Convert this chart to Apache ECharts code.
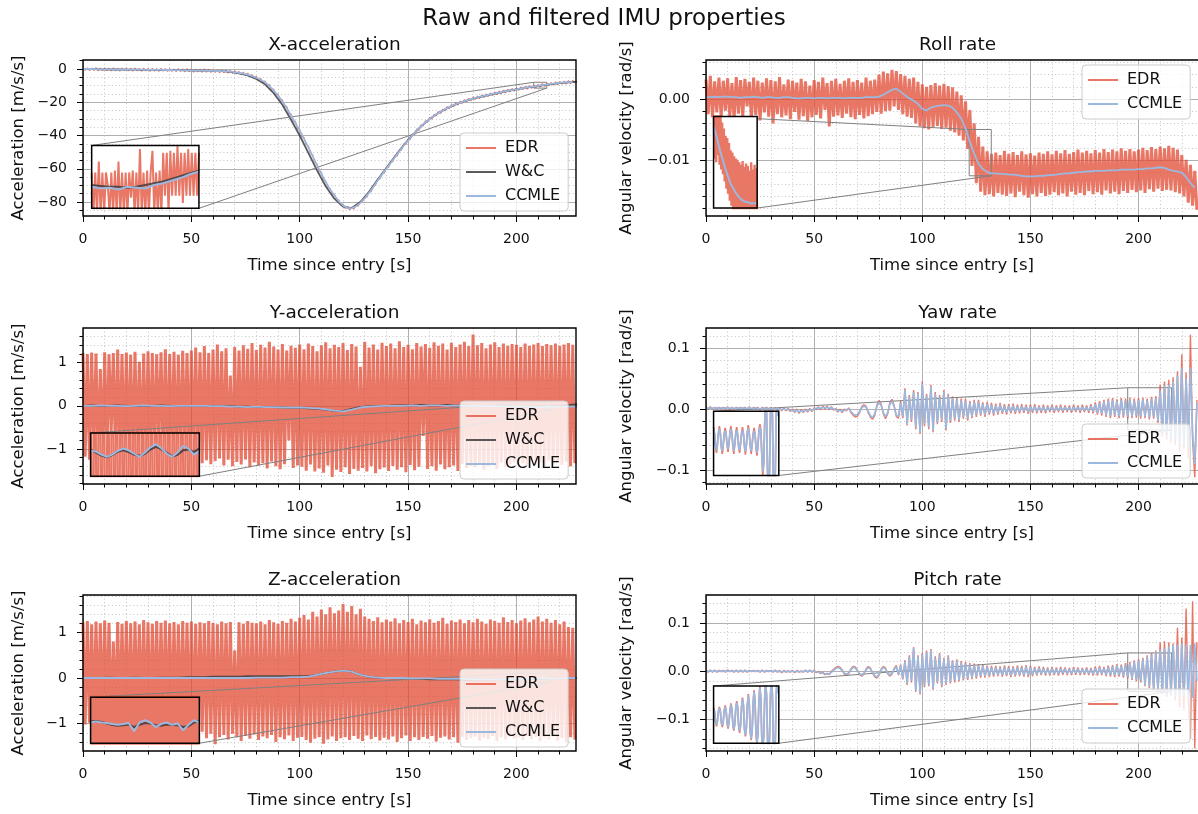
<!DOCTYPE html>
<html><head><meta charset="utf-8">
<script src="https://cdn.jsdelivr.net/npm/echarts@6/dist/echarts.min.js"></script>
<style>html,body{margin:0;padding:0;background:#fff}#c{width:1198px;height:814px}</style>
</head><body><div id="c"></div>
<script>
// ---------------- tick labels ----------------
const xTicks = [0, 50, 100, 150, 200];
const xaccTicks = [-80, -60, -40, -20, 0];
const rollTicks = [-0.01, 0.00];
const yaccTicks = [-1, 0, 1];
const zaccTicks = [-1, 0, 1];
const yawTicks = [-0.1, 0.0, 0.1];
const pitchTicks = [-0.1, 0.0, 0.1];

// ---------------- X-acceleration ----------------
// EDR sampled every 1 s from t=0
const xaccEdr = [
0.9,-0.8,0.7,-1.0,0.6,-0.9,0.8,-1.1,0.5,-1.0,0.6,-1.0,0.5,-1.2,0.7,-1.1,0.4,-1.3,0.6,-1.0,
0.5,-1.2,0.4,-1.3,0.6,-1.1,0.3,-1.4,0.5,-1.2,0.3,-1.4,0.4,-1.3,0.2,-1.5,0.4,-1.3,0.3,-1.5,
0.2,-1.5,0.1,-1.6,0.3,-1.4,0.0,-1.7,0.2,-1.6,-0.1,-1.9,0.0,-1.8,-0.2,-2.0,0.1,-1.9,-0.2,-2.1,
-0.3,-2.1,-0.4,-2.3,-0.5,-2.2,-0.6,-2.5,-0.8,-2.7,-1.0,-3.0,-1.5,-3.3,-1.9,-3.8,-2.5,-4.4,-3.3,-5.3,
-4.4,-6.9,-5.6,-8.4,-7.1,-10.4,-9.2,-12.8,-12.0,-15.6,-15.0,-18.9,-18.4,-22.7,-22.4,-26.9,-26.9,-31.4,-31.4,-35.9,
-36.2,-40.8,-41.2,-45.6,-46.1,-50.9,-51.6,-56.3,-57.1,-61.8,-62.0,-66.6,-67.3,-71.4,-71.7,-75.4,-75.2,-79.0,-78.6,-82.0,
-81.2,-83.9,-82.6,-84.7,-83.0,-84.3,-81.6,-82.6,-79.6,-79.9,-76.9,-77.2,-73.6,-73.8,-70.1,-70.0,-66.1,-66.2,-62.6,-62.8,
-59.1,-59.2,-55.6,-55.7,-52.1,-52.3,-48.6,-48.8,-45.1,-45.5,-42.1,-42.5,-39.1,-39.5,-36.1,-36.8,-33.6,-34.2,-31.1,-32.0,
-29.1,-30.1,-27.3,-28.3,-25.6,-26.7,-24.1,-25.2,-22.6,-23.9,-21.4,-22.7,-20.3,-21.7,-19.3,-20.7,-18.4,-19.8,-17.6,-19.1,
-16.9,-18.4,-16.2,-17.8,-15.6,-17.2,-15.0,-16.6,-14.4,-16.0,-13.8,-15.4,-13.3,-14.9,-12.7,-14.4,-12.2,-13.8,-11.7,-13.4,
-11.3,-12.9,-10.8,-12.5,-10.4,-12.1,-10.0,-11.7,-9.6,-11.3,-9.2,-10.9,-8.8,-10.5,-8.4,-10.1,-8.1,-9.8,-7.8,-9.5,
-7.5,-9.2,-7.2,-9.0,-7.0,-8.8,-6.8,-8.6];
// W&C every 4 s
const xaccWc = [
0,0,-0.2,-0.3,-0.3,-0.4,-0.4,-0.5,-0.5,-0.6,
-0.6,-0.7,-0.8,-0.9,-1.0,-1.1,-1.3,-1.8,-2.6,-3.9,
-6.0,-9.2,-14.5,-21.5,-30.5,-40,-50.5,-61,-70.5,-78,
-82.8,-83.6,-80,-73.8,-66.5,-59.5,-52.5,-45.8,-39.8,-34.5,
-30,-26.5,-23.6,-21.3,-19.4,-17.9,-16.6,-15.4,-14.3,-13.2,
-12.3,-11.4,-10.6,-9.8,-9.1,-8.5,-8.0,-7.6];
// CCMLE every 2 s
const xaccCcmle = [
0,0,0,-0.1,-0.2,-0.2,-0.2,-0.3,-0.3,-0.3,
-0.3,-0.4,-0.4,-0.4,-0.4,-0.5,-0.5,-0.5,-0.5,-0.6,
-0.6,-0.7,-0.7,-0.8,-0.8,-0.9,-0.9,-1.0,-1.0,-1.1,
-1.1,-1.2,-1.3,-1.4,-1.6,-1.9,-2.3,-2.8,-3.4,-4.2,
-5.3,-6.5,-8.0,-10.2,-13,-16,-19.5,-23.5,-28,-32.5,
-37,-42,-47,-52.5,-58,-63,-68,-72.5,-76,-79.5,
-82,-83.5,-83.8,-82.5,-80.5,-77.8,-74.5,-71,-67,-63.5,
-60,-56.5,-53,-49.5,-46,-43,-40,-37,-34.5,-32,
-30,-28.2,-26.5,-25,-23.5,-22.3,-21.2,-20.2,-19.3,-18.5,
-17.8,-17.1,-16.5,-15.9,-15.3,-14.7,-14.2,-13.6,-13.1,-12.6,
-12.2,-11.7,-11.3,-10.9,-10.5,-10.1,-9.7,-9.3,-9.0,-8.7,
-8.4,-8.1,-7.9,-7.7];
// inset (t from 208 s): EDR every 0.1 s, filters every 0.5 s
const xaccInEdr = [
-9.5,-11.8,-9.5,-11.8,-8.9,-11.8,-9.5,-11.8,-9.5,-10.2,-11.8,-9.5,-11.8,-9.4,-11.8,-8.9,-11.8,-9.5,-11.8,-9.5,
-11.8,-9.5,-10.9,-9.4,-11.8,-9.5,-11.8,-8.2,-11.8,-9.5,-11.8,-9.4,-11.8,-9.5,-8.3,-11.8,-9.5,-11.8,-9.4,-11.8,
-8.4,-10.8,-8.4,-11.8,-8.3,-10.8,-8.4,-10.8,-8.0,-10.8,-8.4,-11.2,-8.4,-10.8,-8.2,-10.8,-8.4,-10.8,-8.4,-10.8,-8.4];
const xaccInWc = [-10.2,-10.25,-10.3,-10.3,-10.35,-10.3,-10.2,-10.1,-10.0,-9.85,-9.7,-9.55,-9.4];
const xaccInCcmle = [-10.3,-10.4,-10.35,-10.45,-10.3,-10.35,-10.4,-10.2,-10.1,-9.95,-9.8,-9.6,-9.45];

// ---------------- Roll rate ----------------
const rollEdr = [
0.0032,-0.0025,0.0038,-0.0030,0.0029,-0.0022,0.0035,-0.0031,0.0030,-0.0019,0.0034,-0.0028,0.0026,-0.0033,0.0036,-0.0024,0.0031,-0.0029,0.0033,-0.0012,
0.0028,-0.0031,0.0035,-0.0026,0.0030,-0.0035,0.0027,-0.0022,0.0034,-0.0029,0.0031,-0.0040,0.0029,-0.0025,0.0036,-0.0030,0.0024,-0.0027,0.0032,-0.0033,
0.0030,-0.0021,0.0027,-0.0034,0.0033,-0.0028,0.0029,-0.0036,0.0022,-0.0030,0.0031,-0.0026,0.0028,-0.0032,0.0035,-0.0018,0.0026,-0.0045,0.0030,-0.0029,
0.0033,-0.0027,0.0025,-0.0031,0.0030,-0.0024,0.0034,-0.0030,0.0028,-0.0033,0.0031,-0.0026,0.0027,-0.0032,0.0035,-0.0028,0.0030,-0.0025,0.0032,-0.0021,
0.0040,-0.0024,0.0045,-0.0020,0.0042,-0.0019,0.0048,-0.0012,0.0046,-0.0018,0.0041,-0.0025,0.0038,-0.0029,0.0033,-0.0031,0.0035,-0.0040,0.0028,-0.0045,
0.0024,-0.0048,0.0020,-0.0050,0.0023,-0.0046,0.0026,-0.0044,0.0022,-0.0049,0.0025,-0.0047,0.0021,-0.0052,0.0019,-0.0055,0.0012,-0.0060,0.0006,-0.0068,
-0.0004,-0.0082,-0.0018,-0.0110,-0.0040,-0.0138,-0.0062,-0.0152,-0.0078,-0.0158,-0.0086,-0.0156,-0.0090,-0.0160,-0.0088,-0.0154,-0.0092,-0.0157,-0.0085,-0.0159,
-0.0090,-0.0155,-0.0087,-0.0161,-0.0092,-0.0152,-0.0086,-0.0158,-0.0091,-0.0162,-0.0089,-0.0156,-0.0093,-0.0160,-0.0088,-0.0154,-0.0090,-0.0159,-0.0086,-0.0157,
-0.0091,-0.0153,-0.0085,-0.0158,-0.0089,-0.0155,-0.0084,-0.0160,-0.0090,-0.0152,-0.0087,-0.0157,-0.0083,-0.0154,-0.0088,-0.0158,-0.0085,-0.0151,-0.0089,-0.0156,
-0.0084,-0.0153,-0.0088,-0.0157,-0.0082,-0.0150,-0.0087,-0.0155,-0.0083,-0.0152,-0.0086,-0.0156,-0.0081,-0.0151,-0.0085,-0.0154,-0.0082,-0.0149,-0.0086,-0.0153,
-0.0083,-0.0150,-0.0080,-0.0154,-0.0084,-0.0148,-0.0079,-0.0152,-0.0082,-0.0147,-0.0078,-0.0151,-0.0081,-0.0149,-0.0077,-0.0150,-0.0080,-0.0153,-0.0083,-0.0155,
-0.0092,-0.0160,-0.0100,-0.0170,-0.0108,-0.0175,-0.0118,-0.0182];
// CCMLE every 2 s
const rollCcmle = [
0.0003,0.0003,0.0004,0.0003,0.0004,0.0004,0.0003,0.0003,0.0002,0.0003,0.0003,0.0004,0.0003,0.0002,0.0003,0.0003,0.0002,0.0002,0.0003,0.0003,
0.0002,0.0001,0.0001,0.0002,0.0002,0.0001,0.0002,0.0002,0.0001,0.0002,0.0002,0.0002,0.0001,0.0002,0.0002,0.0002,0.0002,0.0003,0.0003,0.0003,
0.0004,0.0007,0.0011,0.0015,0.0017,0.0012,0.0006,0.0001,-0.0003,-0.0008,-0.0016,-0.0019,-0.0014,-0.0012,-0.0011,-0.0010,-0.0011,-0.0014,-0.0022,-0.0032,
-0.0048,-0.0070,-0.0090,-0.0106,-0.0115,-0.0120,-0.0122,-0.0122,-0.0123,-0.0123,-0.0124,-0.0124,-0.0125,-0.0126,-0.0127,-0.0127,-0.0127,-0.0126,-0.0126,-0.0125,
-0.0125,-0.0124,-0.0123,-0.0122,-0.0122,-0.0121,-0.0120,-0.0120,-0.0119,-0.0119,-0.0118,-0.0118,-0.0118,-0.0117,-0.0117,-0.0117,-0.0116,-0.0116,-0.0116,-0.0116,
-0.0115,-0.0115,-0.0114,-0.0114,-0.0113,-0.0112,-0.0113,-0.0116,-0.0118,-0.0119,-0.0121,-0.0128,-0.0138,-0.0146];
// inset (t from 121.7 s): EDR every 0.2 s, CCMLE every 0.5 s
const rollInEdr = [
-0.0035,-0.0085,-0.0030,-0.0088,-0.0040,-0.0082,-0.0036,-0.0090,-0.0045,-0.0094,
-0.0055,-0.0098,-0.0060,-0.0104,-0.0066,-0.0110,-0.0068,-0.0114,-0.0072,-0.0120,
-0.0078,-0.0124,-0.0080,-0.0130,-0.0083,-0.0128,-0.0085,-0.0132,-0.0086,-0.0131,
-0.0088,-0.0133,-0.0090,-0.0130,-0.0087,-0.0134,-0.0092,-0.0131,-0.0089,-0.0133,
-0.0091,-0.0130,-0.0095,-0.0134,-0.0088,-0.0131,-0.0094,-0.0133,-0.0090,-0.0132,-0.0093,-0.0134];
const rollInCcmle = [-0.0058,-0.0064,-0.0071,-0.0078,-0.0084,-0.0090,-0.0096,-0.0101,-0.0106,-0.0109,-0.0112,-0.0115,-0.0117,-0.0119,-0.0120,-0.0121,-0.0121,-0.0122,-0.0122,-0.0122,-0.0122];

// ---------------- Y-acceleration ----------------
const yaccEdr = [
1.22,-1.18,1.20,-1.25,1.23,-1.10,1.21,-1.28,0.85,-1.20,1.24,-1.22,1.19,-0.60,1.22,-1.24,1.30,-1.19,1.20,-1.26,
1.23,-1.15,1.18,-1.27,1.25,-1.21,1.02,-1.23,1.21,-1.30,1.26,-1.18,1.22,-1.24,1.19,-0.90,1.24,-1.22,1.31,-1.27,
1.20,-1.19,1.25,-1.29,1.18,-1.23,1.27,-1.12,1.22,-1.31,1.28,-1.24,1.35,-1.20,1.24,-1.33,1.38,-1.26,1.22,-1.35,
1.30,-1.28,1.42,-1.22,1.26,-1.38,1.33,-1.25,0.70,-1.40,1.36,-1.30,1.28,-1.36,1.40,-1.24,1.32,-1.42,1.45,-1.31,
1.29,-1.38,1.41,-1.33,1.35,-1.45,1.48,-1.29,1.37,-1.40,1.30,-1.47,1.43,-1.35,1.28,-0.80,1.39,-1.44,1.34,-1.38,
1.42,-1.41,1.31,-1.50,1.44,-1.36,1.38,-1.52,1.26,-1.45,1.40,-1.55,1.47,-1.38,1.33,-1.65,1.41,-1.48,1.36,-1.53,
1.45,-1.42,1.29,-1.58,1.43,-1.46,1.37,-1.50,0.90,-1.44,1.48,-1.52,1.35,-1.40,1.42,-1.56,1.30,-1.47,1.46,-1.43,
1.38,-1.51,1.44,-1.39,1.33,-1.48,1.49,-1.42,1.36,-1.54,1.41,-1.37,1.31,-1.49,1.45,-1.41,1.37,-0.70,1.43,-1.46,
1.34,-1.40,1.47,-1.50,1.39,-1.36,1.44,-1.47,1.30,-1.42,1.46,-1.38,1.36,-1.51,1.42,-1.35,1.48,-1.44,1.38,-1.39,
1.65,-1.43,1.40,-1.37,1.45,-1.48,1.33,-1.40,1.42,-1.35,1.47,-1.46,1.36,-1.32,1.44,-1.41,1.39,-1.36,1.43,-1.30,
1.41,-1.38,1.36,-1.33,1.44,-1.40,1.39,-1.28,1.42,-1.36,1.45,-1.31,1.38,-1.39,1.43,-1.27,1.40,-1.35,1.44,-1.32,
1.39,-1.37,1.42,-1.29,1.45,-1.40,1.41,-1.33];
// filters every 4 s
const yaccWc = [
0,0.01,0,0,0.01,0,-0.01,0,0,0.01,0,0,-0.01,0,
0,0,-0.01,-0.01,-0.02,-0.02,-0.03,-0.03,-0.03,-0.04,-0.05,-0.05,
-0.06,-0.07,-0.09,-0.12,-0.12,-0.07,-0.03,-0.01,0,0,0.01,
0.01,0.01,0.02,0.01,0.01,0.02,0.01,0.01,0,0,-0.01,-0.01,-0.01,-0.02,-0.02,-0.02,-0.02,-0.01,-0.01,0.02,0.03];
const yaccCcmle = [
0,0,0.01,0,0,-0.01,0,0.01,0,0,-0.01,0,0,0,
0,-0.01,-0.01,-0.02,-0.02,-0.03,-0.02,-0.03,-0.03,-0.04,-0.04,-0.04,
-0.05,-0.06,-0.08,-0.11,-0.13,-0.09,-0.04,-0.02,-0.01,0,0,
0,0.01,0,0.01,0.01,0,0.01,0,0,-0.01,-0.01,-0.01,-0.02,-0.02,-0.02,-0.03,-0.03,-0.02,-0.02,-0.02,-0.02];
// inset (t from 213 s): EDR every 0.06 s, filters every 0.15 s
const yaccInEdr = [
1.21,-1.30,1.15,-1.22,1.28,-1.18,1.20,-1.35,1.12,-1.25,1.30,-1.20,1.18,-1.28,1.25,-1.15,1.22,-1.32,1.16,-1.24,
1.27,-1.19,1.21,-1.30,1.14,-1.26,1.29,-1.21,1.17,-1.33,1.24,-1.16,1.20,-1.27,1.31,-1.22,1.18,-1.29,1.23,-1.17,
1.26,-1.31,1.15,-1.24,1.28,-1.20,1.19,-1.34,1.25,-1.18,1.22];
const yaccInWc = [0.022,0.01,-0.004,-0.012,-0.002,0.014,0.02,0.012,0.0,-0.006,0.004,0.024,0.036,0.026,0.008,-0.008,0.0,0.02,0.024,0.012,0.028];
const yaccInCcmle = [0.018,0.014,0.0,-0.01,0.0,0.018,0.028,0.02,0.004,-0.01,0.01,0.034,0.048,0.03,0.004,-0.01,0.01,0.04,0.028,0.0,0.016];

// ---------------- Z-acceleration ----------------
const zaccEdr = [
1.22,-1.02,1.25,-0.98,1.18,-1.05,1.24,-1.01,1.20,-1.08,1.26,-0.96,1.21,-1.04,0.80,-1.00,1.23,-1.06,1.19,-0.99,
1.25,-1.03,1.20,-1.10,1.24,-0.97,1.18,-1.05,1.27,-1.02,1.22,-1.08,1.19,-1.00,1.25,-1.12,1.21,-1.04,1.26,-0.98,
1.20,-1.06,1.23,-1.01,1.18,-1.10,1.25,-1.03,1.21,-1.15,1.24,-1.20,1.19,-1.28,1.22,-1.18,1.20,-1.32,1.25,-1.22,
1.21,-1.45,1.18,-1.30,1.24,-1.25,1.20,-1.35,1.23,-1.22,0.60,-1.30,1.22,-1.38,1.19,-1.27,1.25,-1.33,1.21,-1.24,
1.20,-1.36,1.24,-1.28,1.18,-1.32,1.27,-1.25,1.22,-1.40,1.19,-1.30,1.25,-1.34,1.21,-1.26,1.30,-1.38,1.24,-1.31,
1.32,-1.29,1.38,-1.36,1.28,-1.42,1.45,-1.33,1.35,-1.30,1.50,-1.44,1.40,-1.35,1.55,-1.28,1.42,-1.38,1.48,-1.32,
1.62,-1.30,1.45,-1.36,1.58,-1.27,1.40,-1.33,1.52,-1.38,1.35,-1.26,1.30,-1.34,1.25,-1.29,1.33,-1.37,1.22,-1.31,
1.28,-1.35,1.24,-1.28,1.31,-1.40,1.20,-1.32,1.27,-1.26,1.23,-1.38,1.30,-1.30,1.18,-1.36,1.26,-1.29,1.22,-1.33,
1.29,-1.27,1.21,-1.39,1.25,-1.31,1.32,-1.28,1.19,-1.35,1.26,-1.30,1.23,-1.42,1.28,-1.29,1.20,-1.36,1.27,-1.32,
1.22,-1.28,1.30,-1.37,1.24,-1.31,1.19,-1.34,1.28,-1.27,1.25,-1.38,1.21,-1.30,1.33,-1.35,1.23,-1.28,1.27,-1.33,
1.20,-1.30,1.26,-1.36,1.31,-1.27,1.22,-1.34,1.28,-1.29,1.35,-1.38,1.24,-1.31,1.30,-1.35,1.21,-1.28,1.27,-1.37,
1.18,-1.32,1.24,-1.40,1.12,-1.30,1.10,-1.35];
const zaccWc = [
0,0,0,0.01,0,0,0.01,0,0,0.01,0.01,0.01,0.02,0.02,
0.02,0.03,0.03,0.03,0.03,0.04,0.04,0.04,0.04,0.04,0.04,0.04,
0.04,0.07,0.11,0.14,0.16,0.14,0.07,0.03,0.01,0,-0.01,
-0.01,-0.02,-0.02,-0.03,-0.03,-0.03,-0.03,-0.04,-0.04,-0.04,-0.04,-0.03,-0.03,-0.03,-0.02,-0.02,-0.02,-0.01,-0.01,-0.01,0];
const zaccCcmle = [
0,0,0,0,0,0,0,0,0,0,0,0,0,0,
0,0,0,0,0,0,0.01,0.01,0.01,0.01,0.02,0.02,
0.03,0.07,0.11,0.14,0.16,0.14,0.07,0.03,0.01,0,0,
0,-0.01,-0.01,-0.01,-0.02,-0.02,-0.02,-0.02,-0.03,-0.03,-0.03,-0.03,-0.02,-0.02,-0.02,-0.01,-0.01,-0.01,-0.01,0,0];
// inset (t from 200 s): EDR every 0.3 s, filters every 0.75 s
const zaccInEdr = [
1.18,-1.25,1.22,-1.31,1.26,-1.20,1.15,-1.28,1.30,-1.22,1.21,-1.35,1.17,-1.26,1.24,-1.19,1.28,-1.30,1.20,-1.24,
1.25,-1.21,1.19,-1.33,1.27,-1.23,1.16,-1.29,1.22,-1.18,1.29,-1.26,1.18,-1.32,1.23,-1.20,1.26,-1.27,1.21,-1.25,
1.17,-1.30,1.24,-1.22,1.28,-1.34,1.20,-1.19,1.25,-1.28,1.22];
const zaccInWc = [-0.006,-0.004,-0.008,-0.014,-0.02,-0.024,-0.022,-0.018,-0.03,-0.02,-0.012,-0.014,-0.022,-0.024,-0.018,-0.02,-0.022,-0.03,-0.026,-0.01,-0.004];
const zaccInCcmle = [-0.01,-0.006,-0.01,-0.012,-0.016,-0.02,-0.016,-0.012,-0.048,-0.01,0.0,-0.01,-0.03,-0.016,-0.01,-0.02,-0.014,-0.044,-0.02,0.0,-0.01];

// ---------------- Yaw rate ----------------
const yawEdr = [
0.004,-0.001,0.004,0.000,0.003,0.000,0.003,0.000,0.003,0.000,0.004,-0.001,0.003,0.000,0.003,-0.001,0.003,0.000,0.003,-0.001,
0.004,-0.001,0.003,0.000,0.003,-0.002,0.003,0.000,0.003,-0.002,0.003,-0.002,0.002,-0.001,0.002,-0.003,0.002,-0.003,0.001,-0.004,
0.000,-0.006,0.000,-0.007,-0.001,-0.006,0.000,-0.005,0.001,-0.004,0.002,-0.001,0.004,-0.001,0.005,0.000,0.005,-0.001,0.004,-0.002,
0.001,-0.005,0.000,-0.006,0.000,-0.003,0.002,-0.006,-0.010,-0.013,-0.012,-0.006,0.004,0.007,0.005,-0.006,-0.013,-0.017,-0.011,0.006,
0.014,0.008,-0.008,-0.016,-0.008,0.010,0.016,0.006,-0.012,-0.015,0.013,-0.015,0.034,-0.027,0.023,-0.021,0.031,-0.033,0.028,-0.041,
0.045,-0.028,0.025,-0.033,0.040,-0.038,0.028,-0.025,0.023,-0.021,0.031,-0.035,0.025,-0.023,0.021,-0.019,0.019,-0.021,0.017,-0.016,
0.017,-0.019,0.013,-0.015,0.015,-0.013,0.015,-0.011,0.011,-0.013,0.012,-0.009,0.010,-0.011,0.009,-0.009,0.010,-0.008,0.008,-0.009,
0.008,-0.007,0.009,-0.008,0.007,-0.007,0.008,-0.006,0.007,-0.008,0.007,-0.006,0.008,-0.007,0.006,-0.006,0.007,-0.007,0.006,-0.005,
0.007,-0.006,0.006,-0.005,0.007,-0.006,0.006,-0.005,0.006,-0.006,0.007,-0.005,0.006,-0.006,0.007,-0.005,0.006,-0.006,0.008,-0.007,
0.011,-0.009,0.013,-0.011,0.015,-0.013,0.017,-0.015,0.018,-0.013,0.016,-0.015,0.018,-0.014,0.017,-0.016,0.019,-0.015,0.017,-0.014,
0.018,-0.016,0.019,-0.015,0.017,-0.017,0.020,-0.016,0.021,-0.023,0.040,-0.045,0.045,-0.050,0.048,-0.055,0.052,-0.058,0.062,-0.070,
0.090,-0.065,0.060,-0.080,0.122,-0.050,-0.112,0.015];
const yawCcmle = [
0.002,0.001,0.002,0.001,0.002,0.002,0.001,0.002,0.001,0.002,0.002,0.001,0.002,0.001,0.001,0.002,0.001,0.002,0.001,0.001,
0.002,0.001,0.001,0.002,0.001,0.000,0.001,0.002,0.001,0.000,0.001,0.000,0.000,0.001,0.000,-0.001,0.000,-0.001,-0.001,-0.002,
-0.002,-0.004,-0.002,-0.005,-0.003,-0.004,-0.002,-0.003,-0.001,-0.002,0.000,0.001,0.002,0.001,0.003,0.002,0.003,0.001,0.002,0.000,
-0.001,-0.003,-0.002,-0.004,-0.002,-0.001,0.000,-0.004,-0.008,-0.010,-0.009,-0.004,0.002,0.005,0.003,-0.004,-0.011,-0.014,-0.008,0.004,
0.011,0.006,-0.006,-0.013,-0.006,0.008,0.013,0.004,-0.010,-0.012,0.010,-0.012,0.031,-0.024,0.020,-0.018,0.028,-0.030,0.025,-0.038,
0.042,-0.025,0.022,-0.030,0.037,-0.035,0.025,-0.022,0.020,-0.018,0.028,-0.032,0.022,-0.020,0.018,-0.016,0.016,-0.018,0.014,-0.013,
0.014,-0.016,0.010,-0.012,0.012,-0.010,0.012,-0.008,0.008,-0.010,0.009,-0.006,0.007,-0.008,0.006,-0.006,0.007,-0.005,0.005,-0.006,
0.005,-0.004,0.006,-0.005,0.004,-0.004,0.005,-0.003,0.004,-0.005,0.004,-0.003,0.005,-0.004,0.003,-0.003,0.004,-0.004,0.003,-0.002,
0.004,-0.003,0.003,-0.002,0.004,-0.003,0.003,-0.002,0.003,-0.003,0.004,-0.002,0.003,-0.003,0.004,-0.002,0.003,-0.003,0.005,-0.004,
0.008,-0.006,0.010,-0.008,0.012,-0.010,0.014,-0.012,0.015,-0.010,0.013,-0.012,0.015,-0.011,0.014,-0.013,0.016,-0.012,0.014,-0.011,
0.015,-0.013,0.016,-0.012,0.014,-0.014,0.017,-0.013,0.018,-0.020,0.030,-0.040,0.038,-0.045,0.040,-0.048,0.045,-0.050,0.055,-0.060,
0.068,-0.058,0.050,-0.065,0.068,-0.040,-0.090,0.010];
// inset (t from 195 s), every 0.3 s
const yawInEdr = [
0.018,0.011,-0.003,-0.010,-0.001,0.012,0.019,0.012,-0.004,-0.011,-0.002,0.011,
0.017,0.011,-0.002,-0.009,0.000,0.013,0.019,0.011,-0.003,-0.011,-0.001,0.012,
0.018,0.010,-0.004,-0.010,0.000,0.012,0.018,0.011,-0.003,-0.012,-0.002,0.013,
0.020,0.012,-0.003,-0.011,-0.001,0.011,0.017,0.011,-0.005,-0.013,-0.003,0.014,
0.021,0.016,-0.012,-0.034,-0.023,0.023,0.050,0.034,-0.034,-0.056,-0.034,0.034,
0.056,0.034,-0.040,-0.062,-0.034,0.034,0.062,0.034];
const yawInCcmle = [
0.015,0.010,-0.001,-0.007,0.000,0.010,0.016,0.011,-0.002,-0.008,-0.001,0.009,
0.014,0.010,0.000,-0.006,0.001,0.011,0.016,0.010,-0.001,-0.008,0.000,0.010,
0.015,0.009,-0.002,-0.007,0.001,0.010,0.015,0.010,-0.001,-0.009,-0.001,0.011,
0.017,0.011,-0.001,-0.008,0.000,0.009,0.014,0.010,-0.003,-0.010,-0.002,0.012,
0.018,0.014,-0.010,-0.030,-0.020,0.020,0.045,0.030,-0.030,-0.050,-0.030,0.030,
0.050,0.030,-0.035,-0.055,-0.030,0.030,0.055,0.030];

// ---------------- Pitch rate ----------------
const pitchEdr = [
0.003,-0.002,0.003,-0.002,0.003,-0.002,0.002,-0.001,0.002,-0.002,0.003,-0.001,0.002,-0.002,0.003,-0.002,0.003,-0.002,0.003,-0.002,
0.002,-0.001,0.002,-0.001,0.002,-0.002,0.003,-0.002,0.002,-0.001,0.002,-0.002,0.003,-0.002,0.002,-0.003,0.002,-0.002,0.001,-0.002,
0.002,-0.003,0.002,-0.002,0.001,-0.002,0.003,-0.002,0.003,-0.002,0.002,-0.003,0.000,-0.005,-0.002,-0.007,-0.004,-0.007,0.000,0.004,
0.008,0.010,0.008,0.003,-0.006,-0.008,-0.005,0.005,0.010,0.009,0.003,-0.007,-0.010,-0.006,0.005,0.010,0.007,-0.004,-0.011,-0.014,
-0.008,0.005,0.010,0.007,-0.005,-0.010,-0.006,0.006,0.012,-0.008,0.014,-0.017,0.023,-0.028,0.033,-0.023,0.050,-0.043,0.033,-0.048,
0.038,-0.033,0.043,-0.031,0.046,-0.038,0.031,-0.025,0.038,-0.033,0.028,-0.028,0.033,-0.025,0.023,-0.023,0.025,-0.021,0.021,-0.019,
0.019,-0.018,0.017,-0.016,0.016,-0.015,0.015,-0.013,0.014,-0.013,0.012,-0.012,0.011,-0.011,0.011,-0.010,0.010,-0.011,0.012,-0.010,
0.011,-0.012,0.010,-0.011,0.012,-0.010,0.011,-0.011,0.013,-0.012,0.011,-0.010,0.009,-0.009,0.010,-0.008,0.009,-0.009,0.008,-0.009,
0.009,-0.008,0.008,-0.009,0.009,-0.007,0.008,-0.008,0.007,-0.008,0.009,-0.007,0.008,-0.008,0.007,-0.007,0.008,-0.008,0.007,-0.009,
0.010,-0.009,0.011,-0.008,0.009,-0.010,0.012,-0.011,0.013,-0.012,0.015,-0.011,0.014,-0.013,0.017,-0.015,0.019,-0.018,0.023,-0.021,
0.025,-0.023,0.028,-0.031,0.033,-0.035,0.038,-0.039,0.043,-0.043,0.060,-0.048,0.062,-0.053,0.060,-0.051,0.058,-0.060,0.090,-0.075,
0.070,-0.080,0.130,-0.060,-0.140,0.145,-0.160,0.060];
const pitchCcmle = [
0.001,0.000,0.001,0.000,0.001,0.000,0.000,0.001,0.000,0.001,0.000,0.001,0.000,0.000,0.001,0.000,0.001,0.000,0.001,0.000,
0.000,0.001,0.000,0.001,0.000,0.000,0.001,0.000,0.000,0.001,0.000,0.000,0.001,0.000,0.000,-0.001,0.000,0.000,-0.001,0.000,
0.000,-0.001,0.000,0.000,-0.001,0.000,0.001,0.000,0.001,0.000,0.000,-0.001,-0.002,-0.003,-0.004,-0.005,-0.006,-0.005,-0.002,0.002,
0.006,0.008,0.006,0.001,-0.004,-0.006,-0.003,0.003,0.008,0.007,0.001,-0.005,-0.008,-0.004,0.003,0.008,0.005,-0.002,-0.009,-0.012,
-0.006,0.003,0.008,0.005,-0.003,-0.008,-0.004,0.004,0.010,-0.006,0.012,-0.015,0.020,-0.025,0.030,-0.020,0.048,-0.040,0.030,-0.045,
0.035,-0.030,0.040,-0.028,0.043,-0.035,0.028,-0.022,0.035,-0.030,0.025,-0.025,0.030,-0.022,0.020,-0.020,0.022,-0.018,0.018,-0.016,
0.016,-0.015,0.014,-0.013,0.013,-0.012,0.012,-0.010,0.011,-0.010,0.009,-0.009,0.008,-0.008,0.008,-0.007,0.007,-0.008,0.009,-0.007,
0.008,-0.009,0.007,-0.008,0.009,-0.007,0.008,-0.008,0.010,-0.009,0.008,-0.007,0.006,-0.006,0.007,-0.005,0.006,-0.006,0.005,-0.006,
0.006,-0.005,0.005,-0.006,0.006,-0.004,0.005,-0.005,0.004,-0.005,0.006,-0.004,0.005,-0.005,0.004,-0.004,0.005,-0.005,0.004,-0.006,
0.007,-0.006,0.008,-0.005,0.006,-0.007,0.009,-0.008,0.010,-0.009,0.012,-0.008,0.011,-0.010,0.014,-0.012,0.016,-0.015,0.020,-0.018,
0.022,-0.020,0.025,-0.028,0.030,-0.032,0.035,-0.036,0.040,-0.040,0.045,-0.045,0.048,-0.050,0.052,-0.048,0.055,-0.052,0.055,-0.055,
0.058,-0.050,0.055,-0.058,0.055,-0.055,0.058,-0.020];
// inset (t from 195 s), every 0.3 s
const pitchInEdr = [
0.008,0.003,-0.012,-0.018,-0.011,0.003,0.009,0.004,-0.013,-0.019,-0.012,0.004,
0.011,0.005,-0.014,-0.021,-0.013,0.005,0.014,0.007,-0.016,-0.024,-0.015,0.007,
0.017,0.009,-0.018,-0.027,-0.017,0.009,0.022,0.011,-0.022,-0.032,-0.021,0.011,
0.027,0.014,-0.026,-0.037,-0.025,0.014,0.032,0.017,-0.030,-0.042,-0.029,0.017,
0.038,0.021,-0.034,-0.047,-0.033,0.021,0.044,0.025,-0.038,-0.052,-0.037,0.025,
0.050,0.027,-0.042,-0.057,-0.041,0.027,0.054,0.029];
const pitchInCcmle = [
0.006,0.002,-0.010,-0.016,-0.010,0.002,0.007,0.003,-0.011,-0.017,-0.011,0.003,
0.009,0.004,-0.012,-0.019,-0.012,0.004,0.012,0.006,-0.014,-0.022,-0.014,0.006,
0.015,0.008,-0.016,-0.025,-0.016,0.008,0.020,0.010,-0.020,-0.030,-0.020,0.010,
0.025,0.013,-0.024,-0.035,-0.024,0.013,0.030,0.016,-0.028,-0.040,-0.028,0.016,
0.036,0.020,-0.032,-0.045,-0.032,0.020,0.042,0.024,-0.036,-0.050,-0.036,0.024,
0.048,0.026,-0.040,-0.055,-0.040,0.026,0.052,0.028];

// ---------------- styling / layout ----------------
const FONT = "'DejaVu Sans', sans-serif";
const COLORS = { 'EDR': 'rgba(226,74,51,0.75)', 'W&C': 'rgba(62,62,62,0.85)', 'CCMLE': '#9cb8df' };
const ZS = { 'EDR': 2, 'W&C': 3, 'CCMLE': 4 };
const C_CONN = '#808080';
const X_RANGE = [0, 227.5];
const COL_LEFT = [83, 706], ROW_TOP = [60, 328, 595], GW = 493, GH = 156;

const panels = [
 { title:'X-acceleration', col:0, row:0, yName:'Acceleration [m/s/s]', y:[-88.4,5.4], yInt:20, yMinor:4, ticks:xaccTicks, dec:0,
   lines:[{n:'EDR',d:xaccEdr,t0:0,dt:1,w:1.1},{n:'W&C',d:xaccWc,t0:0,dt:4,w:1.8},{n:'CCMLE',d:xaccCcmle,t0:0,dt:2,w:1.8}],
   inset:{box:[4,53.5,-83.8,-46], win:[208,214,-11.5,-8],
     lines:[{n:'EDR',d:xaccInEdr,t0:208,dt:0.1,w:2},{n:'W&C',d:xaccInWc,t0:208,dt:0.5,w:2},{n:'CCMLE',d:xaccInCcmle,t0:208,dt:0.5,w:2}]},
   legend:{left:460, top:133, names:['EDR','W&C','CCMLE']} },
 { title:'Roll rate', col:1, row:0, yName:'Angular velocity [rad/s]', y:[-0.0192,0.0064], yInt:0.01, yMinor:5, ticks:rollTicks, dec:2,
   lines:[{n:'EDR',d:rollEdr,t0:0,dt:1,w:3},{n:'CCMLE',d:rollCcmle,t0:0,dt:2,w:1.8}],
   inset:{box:[3.5,23.6,-0.0179,-0.00286], win:[121.7,131.9,-0.0126,-0.005],
     lines:[{n:'EDR',d:rollInEdr,t0:121.7,dt:0.2,w:2.4},{n:'CCMLE',d:rollInCcmle,t0:121.7,dt:0.5,w:2}]},
   legend:{left:1082, top:65, names:['EDR','CCMLE']} },
 { title:'Y-acceleration', col:0, row:1, yName:'Acceleration [m/s/s]', y:[-1.81,1.8], yInt:1, yMinor:5, ticks:yaccTicks, dec:0,
   lines:[{n:'EDR',d:yaccEdr,t0:0,dt:1,w:3},{n:'W&C',d:yaccWc,t0:0,dt:4,w:1.8},{n:'CCMLE',d:yaccCcmle,t0:0,dt:4,w:1.8}],
   inset:{box:[3.5,53.7,-1.63,-0.63], win:[213,216,-0.1,0.1],
     lines:[{n:'EDR',d:yaccInEdr,t0:213,dt:0.06,w:2},{n:'W&C',d:yaccInWc,t0:213,dt:0.15,w:2.2},{n:'CCMLE',d:yaccInCcmle,t0:213,dt:0.15,w:2}]},
   legend:{left:460, top:401, names:['EDR','W&C','CCMLE']} },
 { title:'Yaw rate', col:1, row:1, yName:'Angular velocity [rad/s]', y:[-0.123,0.133], yInt:0.1, yMinor:5, ticks:yawTicks, dec:1,
   lines:[{n:'EDR',d:yawEdr,t0:0,dt:1,w:1.4},{n:'CCMLE',d:yawCcmle,t0:0,dt:1,w:1.7}],
   inset:{box:[3.5,33.6,-0.109,-0.0038], win:[195,215.3,-0.0345,0.035],
     lines:[{n:'EDR',d:yawInEdr,t0:195,dt:0.3,w:1.6},{n:'CCMLE',d:yawInCcmle,t0:195,dt:0.3,w:1.8}]},
   legend:{left:1082, top:424, names:['EDR','CCMLE']} },
 { title:'Z-acceleration', col:0, row:2, yName:'Acceleration [m/s/s]', y:[-1.6,1.82], yInt:1, yMinor:5, ticks:zaccTicks, dec:0,
   lines:[{n:'EDR',d:zaccEdr,t0:0,dt:1,w:3},{n:'W&C',d:zaccWc,t0:0,dt:4,w:1.8},{n:'CCMLE',d:zaccCcmle,t0:0,dt:4,w:1.8}],
   inset:{box:[3.5,53.7,-1.43,-0.42], win:[200,215,-0.1,0.1],
     lines:[{n:'EDR',d:zaccInEdr,t0:200,dt:0.3,w:2.8},{n:'W&C',d:zaccInWc,t0:200,dt:0.75,w:2.2},{n:'CCMLE',d:zaccInCcmle,t0:200,dt:0.75,w:2}]},
   legend:{left:460, top:669, names:['EDR','W&C','CCMLE']} },
 { title:'Pitch rate', col:1, row:2, yName:'Angular velocity [rad/s]', y:[-0.165,0.158], yInt:0.1, yMinor:5, ticks:pitchTicks, dec:1,
   lines:[{n:'EDR',d:pitchEdr,t0:0,dt:1,w:1.4},{n:'CCMLE',d:pitchCcmle,t0:0,dt:1,w:1.7}],
   inset:{box:[3.5,33.6,-0.149,-0.0305], win:[195,215.3,-0.0415,0.038],
     lines:[{n:'EDR',d:pitchInEdr,t0:195,dt:0.3,w:1.6},{n:'CCMLE',d:pitchInCcmle,t0:195,dt:0.3,w:1.8}]},
   legend:{left:1082, top:689, names:['EDR','CCMLE']} }
];

function pts(arr, t0, dt) { return arr.map((v, i) => [+(t0 + i * dt).toFixed(4), v]); }
function fmt(dec) { return v => '{t|' + (dec > 0 ? Number(v).toFixed(dec) : String(Math.round(v))).replace('-', '\u2212') + '}'; }

const grids = [], xAxes = [], yAxes = [], series = [], legends = [], titles = [], gfx = [];
titles.push({ text: 'Raw and filtered IMU properties', left: 599, top: 3, textAlign: 'center',
  textStyle: { fontFamily: FONT, fontSize: 23, fontWeight: 'normal', color: '#111' } });

const tickStyle = { color: '#000', width: 1 };
const major = { show: true, lineStyle: { color: '#b0b0b0', width: 1 } };
const minor = { show: true, lineStyle: { color: '#c4c4c4', width: 1, type: [1, 2.6] } };
const TICKFONT = { fontSize: 14, fontFamily: FONT, color: '#111' };
const lab = (ticks, dec) => ({ show: true, customValues: ticks, margin: 16, fontSize: 14, color: '#111', fontFamily: FONT,
  formatter: fmt(dec), rich: { t: TICKFONT } });
const nameStyle = { fontFamily: FONT, fontSize: 16.5, color: '#111' };

panels.forEach((p, i) => {
  const gx = COL_LEFT[p.col], gy = ROW_TOP[p.row];
  grids[i] = { left: gx, top: gy, width: GW, height: GH };
  xAxes[i] = { gridIndex: i, type: 'value', position: 'bottom', min: X_RANGE[0], max: X_RANGE[1], minInterval: 50, maxInterval: 50, splitNumber: 5,
    axisLine: { show: false, onZero: false }, axisTick: { show: true, customValues: xTicks, length: 6, lineStyle: tickStyle },
    axisLabel: lab(xTicks, 0), minorTick: { show: true, splitNumber: 5, length: 3.5, lineStyle: tickStyle },
    splitLine: major, minorSplitLine: minor,
    name: 'Time since entry [s]', nameLocation: 'middle', nameGap: 41, nameTextStyle: nameStyle };
  yAxes[i] = { gridIndex: i, type: 'value', position: 'left', min: p.y[0], max: p.y[1], minInterval: p.yInt, maxInterval: p.yInt, splitNumber: 5,
    axisLine: { show: false, onZero: false }, axisTick: { show: true, customValues: p.ticks, length: 6, lineStyle: tickStyle },
    axisLabel: lab(p.ticks, p.dec), minorTick: { show: true, splitNumber: p.yMinor, length: 3.5, lineStyle: tickStyle },
    splitLine: major, minorSplitLine: minor,
    name: p.yName, nameLocation: 'middle', nameRotate: 90, nameGap: p.col === 0 ? 56 : 71, nameTextStyle: nameStyle };
  titles.push({ text: p.title, left: gx + GW / 2, top: gy - 29, textAlign: 'center',
    textStyle: { fontFamily: FONT, fontSize: 18.5, fontWeight: 'normal', color: '#111' } });
  p.lines.forEach(l => series.push({ type: 'line', name: l.n, xAxisIndex: i, yAxisIndex: i, data: pts(l.d, l.t0, l.dt),
    symbol: 'none', showSymbol: false, silent: true, animation: false, z: ZS[l.n], clip: true,
    itemStyle: { color: COLORS[l.n] }, lineStyle: { color: COLORS[l.n], width: l.w, join: 'bevel' } }));

  // inset (location given in the parent axes' data units)
  const b = p.inset.box, w = p.inset.win;
  const PX = x => gx + (x - X_RANGE[0]) / (X_RANGE[1] - X_RANGE[0]) * GW;
  const PY = y => gy + (p.y[1] - y) / (p.y[1] - p.y[0]) * GH;
  const ix0 = PX(b[0]), ix1 = PX(b[1]), iy0 = PY(b[3]), iy1 = PY(b[2]);
  const j = 6 + i;
  grids[j] = { left: ix0, top: iy0, width: ix1 - ix0, height: iy1 - iy0, show: true, backgroundColor: '#fff', borderWidth: 0, z: 20 };
  xAxes[j] = { gridIndex: j, type: 'value', min: w[0], max: w[1], show: false, splitLine: { show: false } };
  yAxes[j] = { gridIndex: j, type: 'value', min: w[2], max: w[3], show: false, splitLine: { show: false } };
  p.inset.lines.forEach(l => series.push({ type: 'line', name: l.n, xAxisIndex: j, yAxisIndex: j, data: pts(l.d, l.t0, l.dt),
    symbol: 'none', showSymbol: false, silent: true, animation: false, z: 21 + ZS[l.n], clip: true,
    itemStyle: { color: COLORS[l.n] }, lineStyle: { color: COLORS[l.n], width: l.w, join: 'bevel' } }));
  // zoom rectangle + connectors in the parent axes
  const conn = (data) => series.push({ type: 'line', name: '_inset', xAxisIndex: i, yAxisIndex: i, data,
    symbol: 'none', showSymbol: false, silent: true, animation: false, z: 3, clip: true,
    lineStyle: { color: C_CONN, width: 1 } });
  conn([[w[0], w[2]], [w[1], w[2]], [w[1], w[3]], [w[0], w[3]], [w[0], w[2]]]);
  conn([[b[0], b[3]], [w[0], w[3]]]);
  conn([[b[1], b[2]], [w[1], w[2]]]);

  gfx.push({ type: 'rect', silent: true, z: 40, shape: { x: gx, y: gy, width: GW, height: GH },
    style: { fill: 'none', stroke: '#000', lineWidth: 1.4 } });
  gfx.push({ type: 'rect', silent: true, z: 45, shape: { x: ix0, y: iy0, width: ix1 - ix0, height: iy1 - iy0 },
    style: { fill: 'none', stroke: '#000', lineWidth: 1.5 } });

  legends.push({ data: p.legend.names, left: p.legend.left, top: p.legend.top, orient: 'vertical', icon: 'rect',
    itemWidth: 30, itemHeight: 2, itemGap: 8, padding: [7, 8, 7, 6], selectedMode: false,
    backgroundColor: 'rgba(255,255,255,0.8)', borderColor: '#cccccc', borderWidth: 1, borderRadius: 4, z: 50,
    textStyle: { fontFamily: FONT, fontSize: 16, color: '#111', padding: [0, 0, 0, 4] } });
});

const chart = echarts.init(document.getElementById('c'), null, { renderer: 'canvas' });
chart.setOption({
  animation: false, backgroundColor: '#fff', textStyle: { fontFamily: FONT, fontSize: 14 },
  title: titles, grid: grids, xAxis: xAxes, yAxis: yAxes, legend: legends, series: series,
  graphic: { elements: gfx }
});
</script></body></html>
